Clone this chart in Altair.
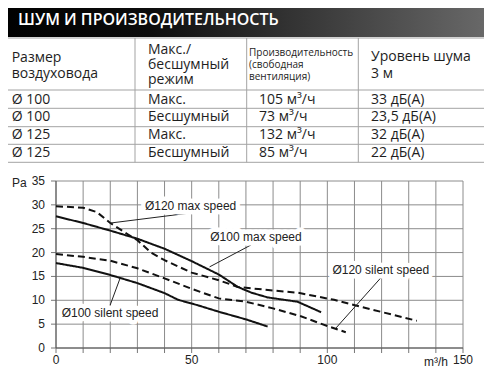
import altair as alt
import pandas as pd

# ---------------- table content ----------------
title_text = "ШУМ И ПРОИЗВОДИТЕЛЬНОСТЬ"
head_size = ["Размер", "воздуховода"]
head_mode = ["Макс./", "бесшумный", "режим"]
head_flow = ["Производительность", "(свободная", "вентиляция)"]
head_noise = ["Уровень шума", "3 м"]
duct_size = ["Ø 100", "Ø 100", "Ø 125", "Ø 125"]
mode = ["Макс.", "Бесшумный", "Макс.", "Бесшумный"]
flow = ["105 м³/ч", "73 м³/ч", "132 м³/ч", "85 м³/ч"]
noise = ["33 дБ(А)", "23,5 дБ(А)", "32 дБ(А)", "22 дБ(А)"]

# ---------------- curve data (m3/h, Pa) ----------------
d100_max_x = [0, 10, 20, 30, 40, 50, 60, 67, 72, 78, 89, 97.7]
d100_max_y = [27.6, 26.2, 24.6, 22.9, 20.8, 18.2, 15.4, 12.8, 11.6, 10.6, 9.7, 7.5]
d120_max_x = [0, 10, 15, 20, 26, 30, 35, 40, 50, 60, 67, 79, 89, 102.5, 110.5, 133]
d120_max_y = [29.7, 29.4, 28.5, 26.2, 24.0, 22.6, 20.0, 18.4, 15.8, 14.2, 12.8, 12.1, 11.6, 10.1, 8.9, 5.7]
d120_sil_x = [0, 10, 20, 30, 40, 50, 60, 70, 80, 90, 100, 106.8]
d120_sil_y = [19.7, 19.1, 18.3, 16.7, 14.6, 12.4, 10.4, 9.7, 8.3, 6.7, 4.6, 3.3]
d100_sil_x = [0, 10, 20, 30, 40, 45, 52, 60, 70, 78]
d100_sil_y = [17.8, 16.8, 15.3, 13.6, 11.5, 10.1, 9.0, 7.6, 6.0, 4.5]

series_names = ["Ø100 max speed", "Ø120 max speed", "Ø120 silent speed", "Ø100 silent speed"]

# annotations: text, label centre, leader start (on curve), leader end (at label)
ann_text = ["Ø120 max speed", "Ø100 max speed", "Ø120 silent speed", "Ø100 silent speed"]
ann_x = [49.6, 73.7, 119.7, 19.9]
ann_y = [29.8, 23.3, 16.3, 7.4]
lead_x1 = [20.2, 56.6, 103.2, 23.6]
lead_y1 = [26.2, 17.0, 4.2, 14.6]
lead_x2 = [49.6, 71.9, 119.7, 19.9]
lead_y2 = [28.3, 21.6, 14.7, 8.9]

x_ticks = list(range(0, 151, 10))
y_ticks = list(range(0, 36, 5))
x_labels = [0, 50, 100, 150]
y_labels = y_ticks

# ---------------- layout (page pixels) ----------------
PX0, PY0 = 56, 181          # page position of plot-area top-left
PW, PH = 407, 167           # plot area size
TFONT = "Open Sans"
PFONT = "Liberation Sans"


def px(v):
    return v - PX0


def py(v):
    return v - PY0


one = pd.DataFrame({"_": [0]})


def txt(s, x, y, size=14, color="#1e1e1e", font=TFONT, weight="normal", align="left"):
    return alt.Chart(one).mark_text(
        align=align, baseline="middle", font=font, fontSize=size,
        color=color, fontWeight=weight
    ).encode(x=alt.value(px(x)), y=alt.value(py(y)), text=alt.value(s))


def rule(x1, y1, x2, y2, color="#a3a3a3"):
    return alt.Chart(one).mark_rule(color=color, strokeWidth=1).encode(
        x=alt.value(px(x1)), x2=alt.value(px(x2)),
        y=alt.value(py(y1)), y2=alt.value(py(y2)))


# ---------------- scales (no library axes; grid/ticks drawn as marks) ----------------
x_scale = alt.Scale(domain=[x_ticks[0], x_ticks[-1]], nice=False, zero=True)
y_scale = alt.Scale(domain=[y_ticks[0], y_ticks[-1]], nice=False, zero=True)


def X(field):
    return alt.X(field, scale=x_scale, axis=None, title=None)


def Y(field):
    return alt.Y(field, scale=y_scale, axis=None, title=None)


X_LO, X_HI = x_ticks[0], x_ticks[-1]
Y_LO, Y_HI = y_ticks[0], y_ticks[-1]

layers = []

# grid
gx = pd.DataFrame({"g": x_ticks, "a": Y_LO, "b": Y_HI})
gy = pd.DataFrame({"g": y_ticks, "a": X_LO, "b": X_HI})
layers.append(alt.Chart(gx).mark_rule(color="#8c8c8c", strokeWidth=1).encode(
    x=X("g:Q"), y=Y("a:Q"), y2="b:Q"))
layers.append(alt.Chart(gy).mark_rule(color="#8c8c8c", strokeWidth=1).encode(
    y=Y("g:Q"), x=X("a:Q"), x2="b:Q"))

# tick marks outside the plot
layers.append(alt.Chart(gx).mark_rule(color="#777777", strokeWidth=1, y2Offset=5).encode(
    x=X("g:Q"), y=Y("a:Q"), y2="a:Q"))
layers.append(alt.Chart(gy).mark_rule(color="#777777", strokeWidth=1, x2Offset=-5).encode(
    y=Y("g:Q"), x=X("a:Q"), x2="a:Q"))

# axis lines
axl = pd.DataFrame({"x0": [X_LO], "x1": [X_HI], "y0": [Y_LO], "y1": [Y_HI]})
layers.append(alt.Chart(axl).mark_rule(color="#555555", strokeWidth=1).encode(
    x=X("x0:Q"), x2="x1:Q", y=Y("y0:Q")))
layers.append(alt.Chart(axl).mark_rule(color="#555555", strokeWidth=1).encode(
    x=X("x0:Q"), y=Y("y0:Q"), y2="y1:Q"))

# tick labels
lx = pd.DataFrame({"v": x_labels, "a": Y_LO})
ly = pd.DataFrame({"v": y_labels, "a": X_LO})
layers.append(alt.Chart(lx).mark_text(font=PFONT, fontSize=12, color="#222222",
                                      align="center", baseline="top", dy=7).encode(
    x=X("v:Q"), y=Y("a:Q"), text="v:N"))
layers.append(alt.Chart(ly).mark_text(font=PFONT, fontSize=12, color="#222222",
                                      align="right", baseline="middle", dx=-11).encode(
    x=X("a:Q"), y=Y("v:Q"), text="v:N"))

# ---------------- curves ----------------
rows = []
for name, xs, ys in zip(series_names,
                        [d100_max_x, d120_max_x, d120_sil_x, d100_sil_x],
                        [d100_max_y, d120_max_y, d120_sil_y, d100_sil_y]):
    for k, (a, b) in enumerate(zip(xs, ys)):
        rows.append({"series": name, "x": a, "y": b, "k": k})
curves = pd.DataFrame(rows)

layers.append(alt.Chart(curves).mark_line(color="#111111", strokeWidth=2).encode(
    x=X("x:Q"), y=Y("y:Q"),
    order="k:Q",
    detail="series:N",
    strokeDash=alt.StrokeDash("series:N",
                              scale=alt.Scale(domain=series_names,
                                              range=[[1, 0], [7, 4], [7, 4], [1, 0]]),
                              legend=None)))

ann = pd.DataFrame({"label": ann_text, "x": ann_x, "y": ann_y,
                    "lx1": lead_x1, "ly1": lead_y1, "lx2": lead_x2, "ly2": lead_y2})

layers.append(alt.Chart(ann).mark_rule(color="#222222", strokeWidth=1).encode(
    x=X("lx1:Q"), y=Y("ly1:Q"), x2="lx2:Q", y2="ly2:Q"))

# white halo behind the labels hides the grid like the label boxes of the original
layers.append(alt.Chart(ann).mark_text(font=PFONT, fontSize=12, color="white",
                                       stroke="white", strokeWidth=9, strokeJoin="round",
                                       baseline="middle", align="center").encode(
    x=X("x:Q"), y=Y("y:Q"), text="label:N"))
layers.append(alt.Chart(ann).mark_text(font=PFONT, fontSize=12, color="#222222",
                                       baseline="middle", align="center").encode(
    x=X("x:Q"), y=Y("y:Q"), text="label:N"))

# ---------------- table ----------------
grad = alt.LinearGradient(
    gradient="linear",
    stops=[alt.GradientStop(color="#000000", offset=0),
           alt.GradientStop(color="#0c0c0c", offset=0.3),
           alt.GradientStop(color="#6a6a6a", offset=1)],
    x1=0, x2=1, y1=0, y2=0)
layers.append(alt.Chart(one).mark_rect(color=grad).encode(
    x=alt.value(px(0)), x2=alt.value(px(492)),
    y=alt.value(py(0)), y2=alt.value(py(37))))
layers.append(txt(title_text, 18, 20, size=16, color="#ffffff", weight=600))

row_lines = [38, 90, 108.3, 126.7, 144.3, 162.3]
col_lines = [135, 246.7, 358.3]
for yv in row_lines:
    layers.append(rule(0, yv, 492, yv))
for xv in col_lines:
    layers.append(rule(xv, 38, xv, 162.3))

FS = 14
col_x = [11.7, 148, 259, 371]
for s, yv in zip(head_size, [58, 74]):
    layers.append(txt(s, col_x[0], yv, size=FS))
for s, yv in zip(head_mode, [50, 65, 80]):
    layers.append(txt(s, col_x[1], yv, size=FS))
for s, yv in zip(head_flow, [53, 65, 77]):
    layers.append(txt(s, 249, yv, size=10))
for s, yv in zip(head_noise, [57, 74]):
    layers.append(txt(s, col_x[3], yv, size=FS))

row_y = [99.5, 117.3, 135.3, 153.3]
for i, yv in enumerate(row_y):
    layers.append(txt(duct_size[i], col_x[0], yv, size=FS))
    layers.append(txt(mode[i], col_x[1], yv, size=FS))
    layers.append(txt(flow[i], col_x[2], yv, size=FS))
    layers.append(txt(noise[i], col_x[3], yv, size=FS))

# axis unit captions
layers.append(txt("Pa", 12, 183, size=12, font=PFONT, color="#222222"))
layers.append(txt("m³/h", 436, 362, size=12, font=PFONT, color="#222222", align="center"))

chart = alt.layer(*layers).properties(
    width=PW, height=PH,
    autosize=alt.AutoSizeParams(type="none"),
    padding={"left": PX0 - 8, "top": PY0 - 8, "right": 484 - (PX0 + PW), "bottom": 368 - (PY0 + PH)},
).configure_view(stroke=None)

chart.save("out.html", embed_options={"renderer": "svg", "actions": False})
